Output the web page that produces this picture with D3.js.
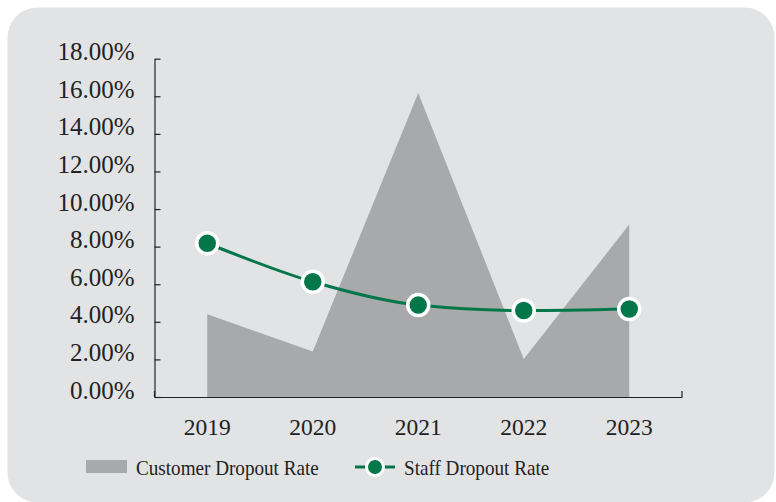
<!DOCTYPE html>
<html>
<head>
<meta charset="utf-8">
<script src="https://cdn.jsdelivr.net/npm/d3@7"></script>
<style>
  html, body { margin: 0; padding: 0; background: #ffffff; }
  svg { display: block; }
  .axis text { font-family: "Liberation Serif", "Times New Roman", serif; fill: #222222; }
</style>
</head>
<body>
<svg id="chart" width="776" height="502"></svg>
<script>
// chart data
var years = ['2019', '2020', '2021', '2022', '2023'];
var customer_dropout = [4.40, 2.42, 16.18, 2.02, 9.18];
var staff_dropout = [8.18, 6.13, 4.89, 4.60, 4.68];
var y_ticks = [0, 2, 4, 6, 8, 10, 12, 14, 16, 18];

var area_colour = '#a8a9ab';
var line_colour = '#03774a';
var text_colour = '#222222';
var font = '"Liberation Serif", "Times New Roman", serif';

draw_chart();

function draw_chart(){
    var svg = d3.select('#chart');
    var plot = {left: 154.5, right: 682, top: 58.7, bottom: 397};

    // card background
    svg.append('rect')
	.attr('x', 7.5).attr('y', 7.5)
	.attr('width', 767).attr('height', 495)
	.attr('rx', 30).attr('ry', 30)
	.attr('fill', '#e2e3e5');

    var x_scale = d3.scaleBand()
	.domain(years)
	.range([plot.left, plot.right]);

    var y_scale = d3.scaleLinear()
	.domain([0, 18])
	.range([plot.bottom, plot.top]);

    var x_mid = function(i){ return x_scale(years[i]) + x_scale.bandwidth() / 2; };

    // y axis, ticks point into the plot
    var y_axis = svg.append('g')
	.attr('class', 'axis')
	.attr('transform', 'translate(' + plot.left + ',0)')
	.call(d3.axisLeft(y_scale)
	      .tickValues(y_ticks)
	      .tickSizeInner(-6)
	      .tickSizeOuter(0)
	      .tickPadding(20)
	      .tickFormat(function(t){ return t.toFixed(2) + '%'; }));
    y_axis.select('.domain').attr('stroke', '#222').attr('stroke-width', 1.2);
    y_axis.selectAll('.tick line').attr('stroke', '#222').attr('stroke-width', 1.2);
    y_axis.selectAll('.tick text')
	.attr('y', -7)
	.style('font-size', '25px');

    // x axis, labels only; boundary ticks drawn separately
    var x_axis = svg.append('g')
	.attr('class', 'axis')
	.attr('transform', 'translate(0,' + plot.bottom + ')')
	.call(d3.axisBottom(x_scale).tickSize(0).tickPadding(21));
    x_axis.select('.domain').attr('stroke', '#222').attr('stroke-width', 1.2);
    x_axis.selectAll('.tick text').style('font-size', '23.5px');

    var edges = years.map(function(d){ return x_scale(d); }).concat([x_scale.range()[1]]);
    svg.append('g').selectAll('line')
	.data(edges)
	.enter()
	.append('line')
	.attr('x1', function(d){ return d; })
	.attr('x2', function(d){ return d; })
	.attr('y1', plot.bottom)
	.attr('y2', plot.bottom - 6)
	.attr('stroke', '#222')
	.attr('stroke-width', 1.2);

    // customer dropout area
    var area = d3.area()
	.x(function(d, i){ return x_mid(i); })
	.y0(y_scale(0))
	.y1(function(d){ return y_scale(d); });

    svg.append('path')
	.datum(customer_dropout)
	.attr('d', area)
	.attr('fill', area_colour);

    // staff dropout line
    var line = d3.line()
	.x(function(d, i){ return x_mid(i); })
	.y(function(d){ return y_scale(d); })
	.curve(d3.curveMonotoneX);

    svg.append('path')
	.datum(staff_dropout)
	.attr('d', line)
	.attr('fill', 'none')
	.attr('stroke', line_colour)
	.attr('stroke-width', 3);

    svg.append('g').selectAll('circle')
	.data(staff_dropout)
	.enter()
	.append('circle')
	.attr('cx', function(d, i){ return x_mid(i); })
	.attr('cy', function(d){ return y_scale(d); })
	.attr('r', 10.5)
	.attr('fill', line_colour)
	.attr('stroke', '#ffffff')
	.attr('stroke-width', 3.5);

    draw_legend(svg);
}

function draw_legend(svg){
    var legend = svg.append('g');
    var y = 467;

    legend.append('rect')
	.attr('x', 86).attr('y', y - 7)
	.attr('width', 41).attr('height', 13)
	.attr('fill', area_colour);
    legend.append('text')
	.attr('transform', 'translate(136,' + (y + 7.5) + ') scale(0.87,1)')
	.style('font-family', font)
	.style('font-size', '22px')
	.attr('fill', text_colour)
	.text('Customer Dropout Rate');

    legend.append('line')
	.attr('x1', 355).attr('x2', 395)
	.attr('y1', y).attr('y2', y)
	.attr('stroke', line_colour)
	.attr('stroke-width', 3);
    legend.append('circle')
	.attr('cx', 375).attr('cy', y)
	.attr('r', 8.5)
	.attr('fill', line_colour)
	.attr('stroke', '#ffffff')
	.attr('stroke-width', 3);
    legend.append('text')
	.attr('transform', 'translate(404,' + (y + 7.5) + ') scale(0.87,1)')
	.style('font-family', font)
	.style('font-size', '22px')
	.attr('fill', text_colour)
	.text('Staff Dropout Rate');
}
</script>
</body>
</html>
